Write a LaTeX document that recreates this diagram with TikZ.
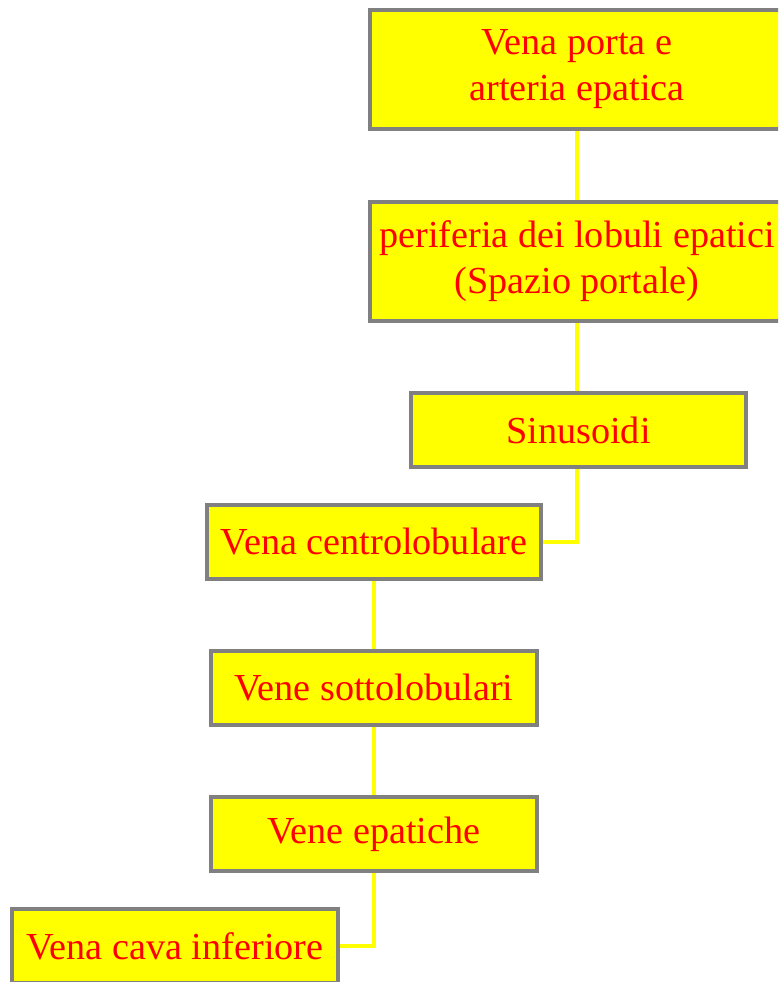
\documentclass[tikz,border=0pt]{standalone}
\usepackage{fontspec}
\setmainfont{Liberation Serif}
\usepackage{tikz}
\usepackage{color}

\tikzset{
  box/.style={draw=cbox,fill=cfbox,text=clbox,line width=2.8pt,shape=rectangle,
    align=center,inner sep=0pt,font=\fontsize{32.6}{39.3}\selectfont},
  link/.style={draw=clink,line width=2.8pt}
}

\begin{document}
\begin{tikzpicture}[x=0.03cm,y=-0.03cm]
\definecolor{cbox}{rgb}{0.502,0.502,0.502}
\definecolor{cfbox}{rgb}{1.0,1.0,0.0}
\definecolor{clbox}{rgb}{1.0,0.0,0.0}
\definecolor{clink}{rgb}{1.0,1.0,0.0}
%
\useasboundingbox (0,0) rectangle (778,982);
\clip (0,0) rectangle (778,982);
%
\node[box,minimum width=414*0.03cm,minimum height=119*0.03cm] (porta) at (577,69.5) {Vena porta e\\arteria epatica};
\node[box,minimum width=414*0.03cm,minimum height=119*0.03cm] (periferia) at (577,261.5) {periferia dei lobuli epatici\\(Spazio portale)};
\node[box,minimum width=335*0.03cm,minimum height=74*0.03cm] (sinusoidi) at (578.5,430) {Sinusoidi};
\node[box,minimum width=334*0.03cm,minimum height=74*0.03cm] (centro) at (374,542) {Vena centrolobulare};
\node[box,minimum width=326*0.03cm,minimum height=74*0.03cm] (sotto) at (374,688) {Vene sottolobulari};
\node[box,minimum width=326*0.03cm,minimum height=74*0.03cm] (epatiche) at (374,834) {Vene epatiche};
\node[box,minimum width=326*0.03cm,minimum height=74*0.03cm] (cava) at (175,946) {Vena cava inferiore};
%
\draw[link] (porta) -- (periferia);
\draw[link] (periferia) -- (periferia|-sinusoidi.north);
\draw[link] (sinusoidi.south-|periferia) |- (centro);
\draw[link] (centro) -- (sotto);
\draw[link] (sotto) -- (epatiche);
\draw[link] (epatiche) |- (cava);
%
\end{tikzpicture}
\end{document}
